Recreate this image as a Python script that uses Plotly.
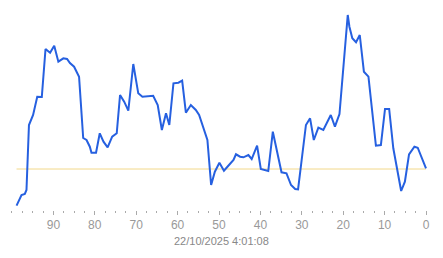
import plotly.graph_objects as go

# Data (x = samples ago, y = arbitrary units)
x_vals = [98.9, 97.7, 96.9, 96.5, 95.9, 94.9, 93.9, 92.8, 91.9, 90.8,
          89.8, 88.8, 87.6, 86.7, 86.0, 85.0, 83.8, 82.8, 82.0, 81.2,
          80.8, 79.7, 78.8, 77.9, 76.9, 75.8, 74.7, 73.9, 72.9, 71.9,
          70.7, 70.3, 69.5, 68.5, 65.9, 64.8, 63.8, 62.8, 62.0, 61.0,
          59.8, 58.9, 58.0, 56.8, 55.6, 54.8, 53.8, 52.8, 51.9, 51.0,
          49.9, 48.8, 47.8, 46.5, 45.9, 44.9, 44.1, 42.9, 42.1, 40.8,
          39.9, 38.1, 37.0, 34.9, 33.7, 32.6, 31.6, 30.9, 29.0, 28.0,
          27.1, 26.0, 24.8, 23.0, 22.0, 20.9, 18.9, 18.5, 17.8, 16.9,
          16.0, 15.0, 13.9, 12.1, 10.9, 9.9, 8.9, 7.9, 6.0, 5.1,
          4.1, 2.8, 2.0, 0.0]
y_vals = [4.3, 15, 16, 20, 85, 95, 113.3, 113, 161, 157.3,
          164.3, 148.3, 151.7, 151, 147, 143.3, 133.3, 72, 70, 63.3,
          57.3, 57.3, 76.7, 68.3, 62.7, 73.3, 76.7, 115, 108.3, 99.3,
          146, 136, 116.7, 113.3, 114.3, 105, 80, 96.7, 85, 126.7,
          127.3, 129.3, 97.3, 105, 100, 95, 81.7, 70, 25, 38.3,
          47.3, 39.3, 44, 50, 55.7, 53.3, 52.7, 55, 51, 64.3,
          41, 39, 78.3, 37.7, 36.7, 25, 21, 20.7, 85, 91.7,
          70, 82.3, 80, 95, 83.3, 96, 195, 183.3, 171.7, 167.7,
          175, 138.3, 133.3, 64.3, 65, 101, 101, 61.7, 19, 28.3,
          55.7, 63.3, 62.3, 41.7]
ref_level = 41
ref_x = [98.9, 0.0]
tick_vals = [90, 80, 70, 60, 50, 40, 30, 20, 10, 0]
tick_text = ["90", "80", "70", "60", "50", "40", "30", "20", "10", "0"]
title_text = "22/10/2025 4:01:08"

fig = go.Figure()
fig.add_trace(go.Scatter(
    x=ref_x, y=[ref_level, ref_level], mode="lines",
    line=dict(color="#f2d88a", width=1), hoverinfo="skip", showlegend=False))
fig.add_trace(go.Scatter(
    x=x_vals, y=y_vals, mode="lines",
    line=dict(color="#2660e0", width=2), showlegend=False))

fig.update_layout(
    width=443, height=258,
    margin=dict(l=10, r=10, t=5, b=48),
    paper_bgcolor="white", plot_bgcolor="white",
    font=dict(family="Liberation Sans, Arial, sans-serif"),
    xaxis=dict(
        range=[100.48, -1.69], showgrid=False, zeroline=False, showline=False,
        tickmode="array", tickvals=tick_vals, ticktext=tick_text,
        ticks="outside", ticklen=4, tickwidth=1, tickcolor="#aaaaaa",
        tickfont=dict(size=12, color="#999999"),
        minor=dict(ticks="outside", dtick=2.5, tick0=0, ticklen=2,
                   tickwidth=1, tickcolor="#aaaaaa"),
    ),
    yaxis=dict(range=[0, 205], showgrid=False, zeroline=False,
               showline=False, showticklabels=False, ticks=""),
    annotations=[dict(text=title_text, xref="paper", yref="paper",
                      x=0.5, y=-0.151, xanchor="center", yanchor="middle",
                      showarrow=False,
                      font=dict(size=11, color="#888888"))],
)

fig.write_html("out.html")
